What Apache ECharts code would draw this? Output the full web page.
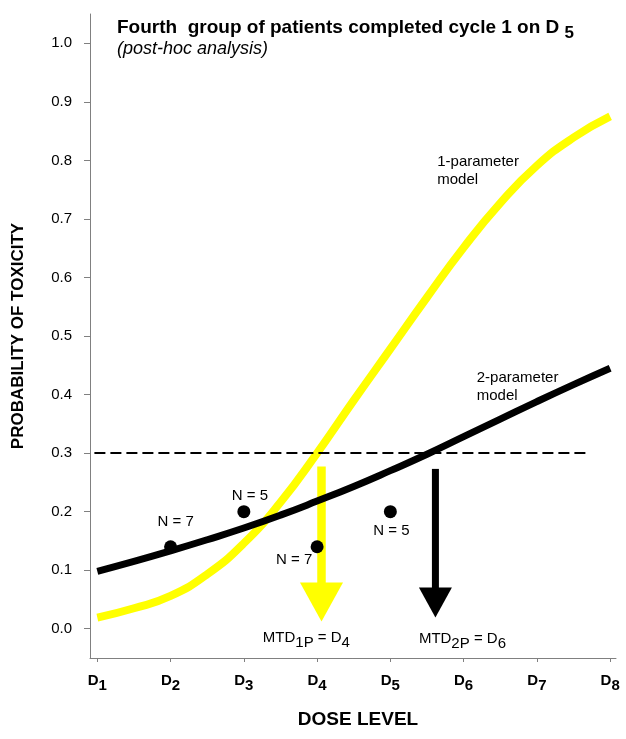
<!DOCTYPE html>
<html>
<head>
<meta charset="utf-8">
<script src="https://cdn.jsdelivr.net/npm/echarts@6/dist/echarts.min.js"></script>
<style>
html, body { margin: 0; padding: 0; background: #fff; }
#chart { width: 626px; height: 739px; }
</style>
</head>
<body>
<div id="chart"></div>
<script>
// axis ticks
var doseTicks = [1, 2, 3, 4, 5, 6, 7, 8];
var probTicks = [0.0, 0.1, 0.2, 0.3, 0.4, 0.5, 0.6, 0.7, 0.8, 0.9, 1.0];

// model curves
var curveDose = [1, 1.5, 2, 2.5, 3, 3.5, 4, 4.5, 5, 5.5, 6, 6.5, 7, 7.5, 8];
var oneParamModel = [0.019, 0.035, 0.056, 0.093, 0.146, 0.216, 0.300, 0.390, 0.478, 0.566, 0.651, 0.727, 0.791, 0.839, 0.875];
var twoParamModel = [0.098, 0.115, 0.133, 0.152, 0.172, 0.194, 0.218, 0.243, 0.270, 0.298, 0.328, 0.358, 0.388, 0.417, 0.445];

// observed toxicity rates
var observedDose = [2, 3, 4, 5];
var observedRate = [0.14, 0.20, 0.14, 0.20];
var observedN = [7, 5, 7, 5];

// target toxicity line
var targetToxicity = 0.3;
var targetDoseRange = [0.96, 7.67];

// MTD arrows: dose, start prob, tip prob
var mtd1pArrow = [4.06, 0.277, 0.0125];
var mtd2pArrow = [5.615, 0.273, 0.019];

// text annotations
var noteText = [
    '{t|MTD}{s|1P}{t| = D}{s|4}',
    '{t|MTD}{s|2P}{t| = D}{s|6}',
    '1-parameter\nmodel',
    '2-parameter\nmodel'
];
var noteDose = [3.26, 5.39, 5.64, 6.18];
var noteProb = [-0.016, -0.017, 0.782, 0.4135];

var FONT = "'Liberation Sans', Arial, sans-serif";
var chart = echarts.init(document.getElementById('chart'));

function zip(xs, ys) {
    return xs.map(function(x, i) { return [x, ys[i]]; });
}

function arrowRenderer(shaftWidth, headWidth, headLength) {
    return function(params, api) {
        var top = api.coord([api.value(0), api.value(1)]);
        var tip = api.coord([api.value(0), api.value(2)]);
        var color = api.visual('color');
        var headTop = tip[1] - headLength;
        return {
            type: 'group',
            children: [
                {
                    type: 'rect',
                    shape: {x: top[0] - shaftWidth / 2, y: top[1], width: shaftWidth, height: headTop - top[1] + 1},
                    style: {fill: color}
                },
                {
                    type: 'polygon',
                    shape: {points: [[tip[0] - headWidth / 2, headTop], [tip[0] + headWidth / 2, headTop], [tip[0], tip[1]]]},
                    style: {fill: color}
                }
            ]
        };
    };
}

// label offsets of the N = .. texts around the dots
var pointLabelOffsets = [[5, -25], [6, -16], [-23, 13], [1, 19]];

var subRich = {
    t: {fontSize: 15, fontFamily: FONT, color: '#000'},
    s: {fontSize: 15, fontFamily: FONT, color: '#000', padding: [10, 0, 0, 0]}
};

var option = {
    animation: false,
    backgroundColor: '#fff',
    title: [
        {
            left: 112,
            top: 8,
            text: '{m|Fourth  group of patients completed cycle 1 on D }{s|5}',
            textStyle: {
                rich: {
                    m: {fontSize: 19, fontWeight: 'bold', fontFamily: FONT, color: '#000'},
                    s: {fontSize: 17, fontWeight: 'bold', fontFamily: FONT, color: '#000', padding: [12, 0, 0, 0]}
                }
            }
        },
        {
            left: 112,
            top: 35,
            text: '(post-hoc analysis)',
            textStyle: {fontSize: 18, fontStyle: 'italic', fontWeight: 'normal', fontFamily: FONT, color: '#000'}
        }
    ],
    grid: {left: 90, right: 10, top: 14, bottom: 81, containLabel: false, outerBoundsMode: 'none'},
    xAxis: {
        type: 'value',
        min: 0.9,
        max: 8.08,
        name: 'DOSE LEVEL',
        nameLocation: 'middle',
        nameGap: 52,
        nameTextStyle: {fontSize: 19, fontWeight: 'bold', fontFamily: FONT, color: '#000', padding: [0, 0, 0, 10]},
        splitLine: {show: false},
        axisLine: {show: true, onZero: false, lineStyle: {color: '#808080', width: 1}},
        axisTick: {show: true, customValues: doseTicks, length: 4, lineStyle: {color: '#808080'}},
        axisLabel: {
            customValues: doseTicks,
            margin: 10,
            formatter: function(v) { return '{d|D}{s|' + v + '}'; },
            rich: {
                d: {fontSize: 15, fontWeight: 'bold', fontFamily: FONT, color: '#000'},
                s: {fontSize: 15, fontWeight: 'bold', fontFamily: FONT, color: '#000', padding: [10, 0, 0, 0]}
            }
        }
    },
    yAxis: {
        type: 'value',
        min: -0.05,
        max: 1.05,
        name: 'PROBABILITY OF TOXICITY',
        nameLocation: 'middle',
        nameGap: 63,
        nameTextStyle: {fontSize: 17, fontWeight: 'bold', fontFamily: FONT, color: '#000'},
        splitLine: {show: false},
        axisLine: {show: true, onZero: false, lineStyle: {color: '#808080', width: 1}},
        axisTick: {show: true, customValues: probTicks, length: 6, lineStyle: {color: '#808080'}},
        axisLabel: {
            customValues: probTicks,
            margin: 18,
            fontSize: 15,
            fontFamily: FONT,
            color: '#000',
            formatter: function(v) { return v.toFixed(1); }
        }
    },
    series: [
        {
            name: '1-parameter model',
            type: 'line',
            data: zip(curveDose, oneParamModel),
            smooth: 0.5,
            showSymbol: false,
            silent: true,
            lineStyle: {color: '#ffff00', width: 8},
            z: 2
        },
        {
            name: 'MTD 1P',
            type: 'custom',
            data: [mtd1pArrow],
            encode: {x: 0, y: [1, 2]},
            renderItem: arrowRenderer(8.5, 43, 39),
            itemStyle: {color: '#ffff00'},
            clip: false,
            silent: true,
            z: 3
        },
        {
            name: '2-parameter model',
            type: 'line',
            data: zip(curveDose, twoParamModel),
            smooth: 0.5,
            showSymbol: false,
            silent: true,
            lineStyle: {color: '#000', width: 7},
            z: 4
        },
        {
            name: 'target',
            type: 'line',
            data: targetDoseRange.map(function(d) { return [d, targetToxicity]; }),
            showSymbol: false,
            silent: true,
            lineStyle: {color: '#000', width: 2, type: [11, 5]},
            z: 5
        },
        {
            name: 'observed',
            type: 'scatter',
            data: observedDose.map(function(d, i) {
                return {
                    value: [d, observedRate[i]],
                    label: {offset: pointLabelOffsets[i]}
                };
            }),
            symbolSize: 13,
            itemStyle: {color: '#000', opacity: 1},
            silent: true,
            label: {
                show: true,
                position: 'inside',
                fontSize: 15,
                fontFamily: FONT,
                color: '#000',
                opacity: 1,
                formatter: function(p) { return 'N = ' + observedN[p.dataIndex]; }
            },
            z: 6
        },
        {
            name: 'MTD 2P',
            type: 'custom',
            data: [mtd2pArrow],
            encode: {x: 0, y: [1, 2]},
            renderItem: arrowRenderer(7, 33, 30),
            itemStyle: {color: '#000'},
            clip: false,
            silent: true,
            z: 6
        },
        {
            name: 'notes',
            type: 'scatter',
            data: zip(noteDose, noteProb),
            symbolSize: 0.1,
            itemStyle: {color: 'rgba(0,0,0,0)', opacity: 1},
            silent: true,
            label: {
                show: true,
                position: [0, 0],
                align: 'left',
                verticalAlign: 'middle',
                fontSize: 15,
                lineHeight: 18,
                fontFamily: FONT,
                color: '#000',
                opacity: 1,
                formatter: function(p) { return noteText[p.dataIndex]; },
                rich: subRich
            },
            z: 7
        }
    ]
};

chart.setOption(option);
</script>
</body>
</html>
